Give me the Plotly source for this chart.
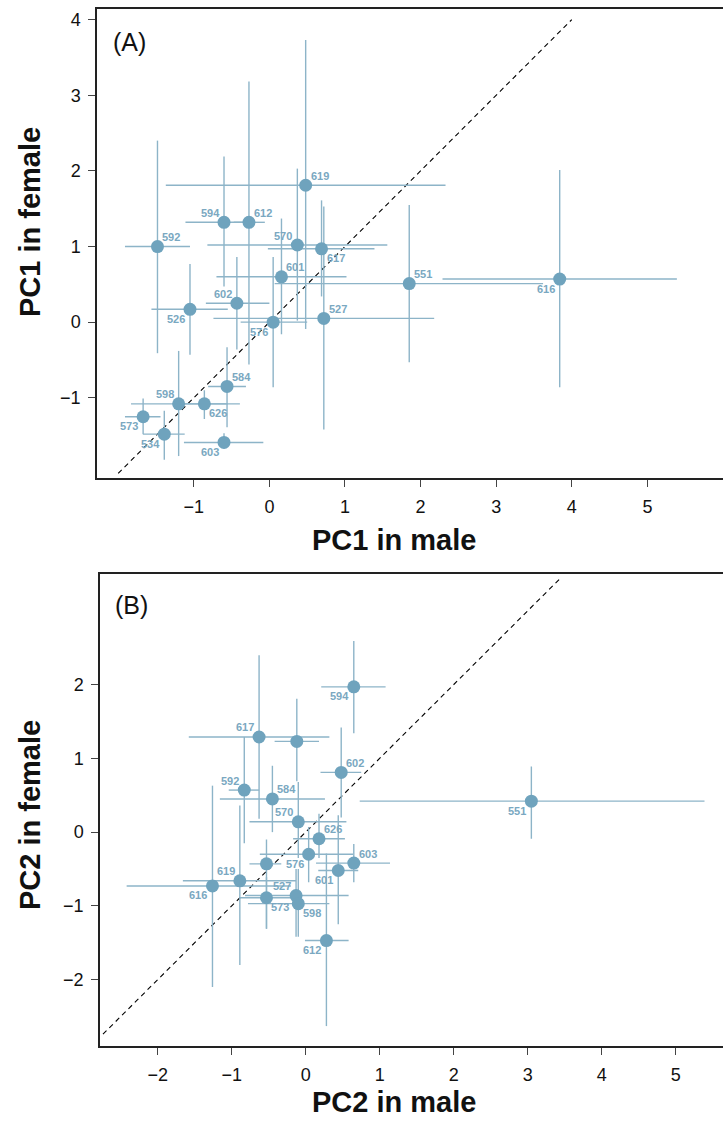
import plotly.graph_objects as go

W, H = 723, 1124

# ---------------- Panel A data (PC1) ----------------
ids_a = ["619", "594", "612", "592", "570", "617", "527", "601", "551", "616",
         "602", "526", "576", "584", "598", "626", "573", "534", "603"]
male_a = [0.48, -0.60, -0.27, -1.48, 0.37, 0.69, 0.72, 0.16, 1.85, 3.84,
          -0.43, -1.05, 0.05, -0.56, -1.20, -0.86, -1.67, -1.39, -0.60]
male_lo_a = [-1.37, -1.11, -0.47, -1.91, -0.82, -0.02, -0.74, -0.70, 0.07, 2.29,
             -0.84, -1.56, -0.38, -0.81, -1.83, -1.20, -1.91, -1.67, -1.13]
male_hi_a = [2.33, -0.25, -0.06, -1.05, 1.56, 1.39, 2.18, 1.02, 3.62, 5.39,
             0.00, -0.55, 0.50, -0.31, -0.55, -0.39, -1.44, -1.12, -0.08]
female_a = [1.81, 1.32, 1.32, 1.00, 1.02, 0.97, 0.05, 0.60, 0.51, 0.57,
            0.25, 0.17, 0.00, -0.85, -1.08, -1.08, -1.25, -1.48, -1.59]
female_lo_a = [-0.09, 0.47, -0.56, -0.41, 0.02, 0.34, -1.42, -0.16, -0.53, -0.86,
               -0.36, -0.43, -0.86, -1.39, -1.77, -1.28, -1.48, -1.82, -1.67]
female_hi_a = [3.73, 2.19, 3.18, 2.40, 2.03, 1.61, 1.53, 1.37, 1.55, 2.01,
               0.86, 0.77, 0.86, -0.33, -0.38, -0.90, -1.01, -1.17, -1.47]
labelpos_a = ["top right", "top left", "top right", "top right", "top left",
              "bottom right", "top right", "top right", "top right", "bottom left",
              "top left", "bottom left", "bottom left", "top right", "top left",
              "bottom right", "bottom left", "bottom left", "bottom left"]
diag_a = [-2.0, 4.0]
xticks_a = [-1, 0, 1, 2, 3, 4, 5]
yticks_a = [-1, 0, 1, 2, 3, 4]

# ---------------- Panel B data (PC2) ----------------
ids_b = ["594", "617", "", "602", "592", "584", "570", "626", "576", "",
         "603", "601", "616", "619", "527", "573", "598", "612", "551"]
male_b = [0.65, -0.63, -0.12, 0.48, -0.83, -0.45, -0.10, 0.18, 0.04, -0.53,
          0.65, 0.44, -1.26, -0.89, -0.13, -0.53, -0.10, 0.28, 3.05]
male_lo_b = [0.21, -1.58, -0.42, 0.20, -1.04, -1.16, -0.76, -0.17, -0.62, -0.76,
             0.14, 0.17, -2.42, -1.66, -0.82, -0.89, -0.78, -0.01, 0.73]
male_hi_b = [1.08, 0.32, 0.18, 0.75, -0.63, 0.26, 0.55, 0.53, 0.64, -0.33,
             1.14, 0.71, -0.20, -0.13, 0.58, -0.13, 0.32, 0.58, 5.39]
female_b = [1.97, 1.29, 1.23, 0.81, 0.57, 0.45, 0.14, -0.09, -0.30, -0.43,
            -0.42, -0.52, -0.73, -0.66, -0.86, -0.89, -0.97, -1.47, 0.42]
female_lo_b = [1.34, 0.18, 0.69, 0.20, -0.15, 0.00, -0.35, -0.35, -0.68, -1.31,
               -0.68, -1.25, -2.10, -1.80, -1.42, -1.31, -1.42, -2.63, -0.09]
female_hi_b = [2.59, 2.40, 1.81, 1.42, 1.29, 0.90, 0.68, 0.25, 0.07, -0.10,
               -0.16, 0.23, 0.63, 0.36, -0.50, -0.61, -0.50, -0.29, 0.89]
labelpos_b = ["bottom left", "top left", "top left", "top right", "top left",
              "top right", "top left", "top right", "bottom left", "top left",
              "top right", "bottom left", "bottom left", "top left", "top left",
              "bottom right", "bottom right", "bottom left", "bottom left"]
diag_b = [-2.74, 3.45]
xticks_b = [-2, -1, 0, 1, 2, 3, 4, 5]
yticks_b = [-2, -1, 0, 1, 2]

PT = "#6fa3bd"
BAR = "#8db4c8"
LBL = "#7aa8c1"
FONT = "Liberation Sans"


def px_x(p):
    return p / W


def px_y(p):
    return 1 - p / H


def panel_traces(xa, ya, male, mlo, mhi, fem, flo, fhi, diag):
    tr = []
    tr.append(go.Scatter(
        x=diag, y=diag, mode="lines", xaxis=xa, yaxis=ya,
        line=dict(color="black", width=1.1, dash="5px,4px"),
        hoverinfo="skip", showlegend=False))
    tr.append(go.Scatter(
        x=male, y=fem, mode="markers", xaxis=xa, yaxis=ya,
        marker=dict(size=13, color=PT, line=dict(width=0)),
        error_x=dict(type="data", symmetric=False,
                     array=[h - m for h, m in zip(mhi, male)],
                     arrayminus=[m - l for m, l in zip(male, mlo)],
                     color=BAR, thickness=1.4, width=0),
        error_y=dict(type="data", symmetric=False,
                     array=[h - m for h, m in zip(fhi, fem)],
                     arrayminus=[m - l for m, l in zip(fem, flo)],
                     color=BAR, thickness=1.4, width=0),
        showlegend=False))
    return tr


def point_labels(xa, ya, male, fem, ids, pos):
    out = []
    for x, y, t, p in zip(male, fem, ids, pos):
        if not t:
            continue
        vert, horiz = p.split()
        out.append(dict(
            x=x, y=y, xref=xa, yref=ya, text=t, showarrow=False,
            xanchor="center", yanchor="middle",
            xshift=14 if horiz == "right" else -14,
            yshift=9.5 if vert == "top" else -9.5,
            font=dict(family=FONT, size=11, color=LBL, weight="bold")))
    return out


fig = go.Figure()
for t in panel_traces("x", "y", male_a, male_lo_a, male_hi_a, female_a, female_lo_a,
                      female_hi_a, diag_a):
    fig.add_trace(t)
for t in panel_traces("x2", "y2", male_b, male_lo_b, male_hi_b, female_b, female_lo_b,
                      female_hi_b, diag_b):
    fig.add_trace(t)

axis_common = dict(
    showgrid=False, zeroline=False, showline=True, linecolor="#222", linewidth=1.5,
    ticks="outside", ticklen=7, tickwidth=1, tickcolor="#444",
    tickfont=dict(family=FONT, size=18, color="#111"),
)

# Panel A frame: left 97, top 9, bottom 478 ; Panel B: left 100, top 574, bottom 1046
fig.update_layout(
    width=W, height=H,
    margin=dict(l=0, r=0, t=0, b=0),
    paper_bgcolor="white", plot_bgcolor="white",
    xaxis=dict(axis_common, domain=[px_x(97), 1], range=[-2.28, 6.0],
               tickvals=xticks_a, mirror=True, anchor="y", ticklabelstandoff=5),
    yaxis=dict(axis_common, domain=[px_y(478), px_y(9)], range=[-2.06, 4.14],
               tickvals=yticks_a, anchor="x", ticklabelstandoff=4),
    xaxis2=dict(axis_common, domain=[px_x(100), 1], range=[-2.78, 5.64],
                tickvals=xticks_b, mirror=True, anchor="y2", ticklabelstandoff=5),
    yaxis2=dict(axis_common, domain=[px_y(1046), px_y(574)], range=[-2.90, 3.50],
                tickvals=yticks_b, anchor="x2", ticklabelstandoff=4),
)

ann = [
    dict(text="(A)", x=px_x(111), y=px_y(42), xanchor="left", yanchor="middle",
         font=dict(family=FONT, size=25, color="#111")),
    dict(text="(B)", x=px_x(113), y=px_y(605), xanchor="left", yanchor="middle",
         font=dict(family=FONT, size=25, color="#111")),
    dict(text="<b>PC1 in male</b>", x=px_x(394), y=px_y(540), xanchor="center",
         yanchor="middle", font=dict(family=FONT, size=29, color="#111")),
    dict(text="<b>PC1 in female</b>", x=px_x(30), y=px_y(222), xanchor="center",
         yanchor="middle", textangle=-90, font=dict(family=FONT, size=29, color="#111")),
    dict(text="<b>PC2 in male</b>", x=px_x(394), y=px_y(1102), xanchor="center",
         yanchor="middle", font=dict(family=FONT, size=29, color="#111")),
    dict(text="<b>PC2 in female</b>", x=px_x(30), y=px_y(815), xanchor="center",
         yanchor="middle", textangle=-90, font=dict(family=FONT, size=29, color="#111")),
]
for a in ann:
    a.update(xref="paper", yref="paper", showarrow=False)
ann += point_labels("x", "y", male_a, female_a, ids_a, labelpos_a)
ann += point_labels("x2", "y2", male_b, female_b, ids_b, labelpos_b)
fig.update_layout(annotations=ann)

fig.write_html("out.html")
